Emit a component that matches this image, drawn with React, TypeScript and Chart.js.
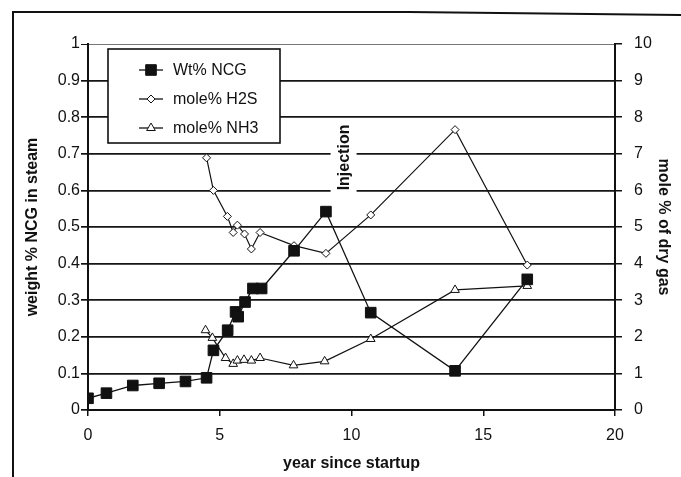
import React, { useEffect, useRef } from "react";
import { Chart, registerables } from "chart.js";
import { drawPoint } from "chart.js/helpers";

Chart.register(...registerables);

const FONT = "'Liberation Sans', Arial, sans-serif";

// Wt% NCG (left axis)
const ncgYears = [0, 0.7, 1.7, 2.7, 3.7, 4.5, 4.76, 5.3, 5.6, 5.7, 5.96, 6.26, 6.59, 7.82, 9.03, 10.73, 13.93, 16.67];
const ncgValues = [0.032, 0.046, 0.067, 0.073, 0.078, 0.088, 0.163, 0.218, 0.268, 0.255, 0.295, 0.332, 0.332, 0.435, 0.542, 0.266, 0.107, 0.357];

// mole% H2S (right axis)
const h2sYears = [4.5, 4.76, 5.29, 5.51, 5.67, 5.94, 6.2, 6.53, 7.82, 9.03, 10.73, 13.93, 16.67];
const h2sValues = [6.89, 6.0, 5.29, 4.85, 5.05, 4.81, 4.4, 4.85, 4.49, 4.28, 5.33, 7.66, 3.96];

// mole% NH3 (right axis)
const nh3Years = [4.46, 4.72, 5.22, 5.51, 5.67, 5.92, 6.2, 6.53, 7.8, 8.98, 10.73, 13.93, 16.67];
const nh3Values = [2.18, 1.97, 1.42, 1.26, 1.35, 1.37, 1.35, 1.42, 1.22, 1.33, 1.94, 3.28, 3.39];

const seriesLabels = ["Wt% NCG", "mole% H2S", "mole% NH3"];
const yTickLabels = ["0", "0.1", "0.2", "0.3", "0.4", "0.5", "0.6", "0.7", "0.8", "0.9", "1"];
const y1TickLabels = ["0", "1", "2", "3", "4", "5", "6", "7", "8", "9", "10"];
const xTickLabels = ["0", "5", "10", "15", "20"];
const xTitle = "year since startup";
const yTitle = "weight % NCG in steam";
const y1Title = "mole % of dry gas";
const annotationText = "Injection";
const annotationYear = 9.7;
const annotationValue = 0.69;

const toPoints = (xs: number[], ys: number[]) => xs.map((x, i) => ({ x, y: ys[i] }));

const framePlugin = {
  id: "frame",
  beforeDraw(chart: any) {
    const { ctx, width, height } = chart;
    ctx.save();
    ctx.fillStyle = "#fff";
    ctx.fillRect(0, 0, width, height);
    ctx.strokeStyle = "#111";
    ctx.lineWidth = 2;
    ctx.beginPath();
    ctx.moveTo(13, height);
    ctx.lineTo(13, 12);
    ctx.lineTo(width * 0.6, 12);
    ctx.lineTo(width, 15);
    ctx.stroke();
    ctx.restore();
  },
};

const overlayPlugin = {
  id: "overlay",
  afterDraw(chart: any) {
    const { ctx } = chart;
    const xs = chart.scales.x;
    const ys = chart.scales.y;
    // annotation
    const ax = xs.getPixelForValue(annotationYear);
    const ay = ys.getPixelForValue(annotationValue);
    ctx.save();
    ctx.fillStyle = "#fff";
    ctx.fillRect(ax - 13, ay - 38, 26, 76);
    ctx.translate(ax, ay);
    ctx.rotate(-Math.PI / 2);
    ctx.fillStyle = "#111";
    ctx.font = `bold 16px ${FONT}`;
    ctx.textAlign = "center";
    ctx.textBaseline = "middle";
    ctx.fillText(annotationText, 0, 1);
    ctx.restore();

    // legend box
    const bx = 108, by = 49, bw = 172, bh = 94;
    ctx.save();
    ctx.fillStyle = "#fff";
    ctx.fillRect(bx, by, bw, bh);
    ctx.strokeStyle = "#111";
    ctx.lineWidth = 1.6;
    ctx.strokeRect(bx, by, bw, bh);
    chart.data.datasets.forEach((ds: any, i: number) => {
      const y = by + 21 + i * 29;
      ctx.strokeStyle = "#111";
      ctx.lineWidth = 1.3;
      ctx.beginPath();
      ctx.moveTo(bx + 31, y);
      ctx.lineTo(bx + 55, y);
      ctx.stroke();
      ctx.fillStyle = ds.pointBackgroundColor;
      ctx.strokeStyle = "#111";
      ctx.lineWidth = 1;
      drawPoint(ctx, { pointStyle: ds.pointStyle, radius: ds.pointRadius, rotation: 0, borderWidth: 1 }, bx + 43, y);
      ctx.fillStyle = "#111";
      ctx.font = `16px ${FONT}`;
      ctx.textAlign = "left";
      ctx.textBaseline = "middle";
      ctx.fillText(ds.label, bx + 65, y + 1);
    });
    ctx.restore();
  },
};

export default function App() {
  const ref = useRef<HTMLCanvasElement>(null);
  useEffect(() => {
    if (!ref.current) return;
    const chart = new Chart(ref.current, {
      type: "scatter",
      data: {
        datasets: [
          {
            label: seriesLabels[0],
            data: toPoints(ncgYears, ncgValues),
            yAxisID: "y",
            showLine: true,
            borderColor: "#111",
            borderWidth: 1.3,
            pointStyle: "rect",
            pointRadius: 7.5,
            pointBackgroundColor: "#111",
            pointBorderColor: "#111",
            pointBorderWidth: 1,
          },
          {
            label: seriesLabels[1],
            data: toPoints(h2sYears, h2sValues),
            yAxisID: "y1",
            showLine: true,
            borderColor: "#111",
            borderWidth: 1.2,
            pointStyle: "rectRot",
            pointRadius: 4,
            pointBackgroundColor: "#fff",
            pointBorderColor: "#111",
            pointBorderWidth: 1,
          },
          {
            label: seriesLabels[2],
            data: toPoints(nh3Years, nh3Values),
            yAxisID: "y1",
            showLine: true,
            borderColor: "#111",
            borderWidth: 1.2,
            pointStyle: "triangle",
            pointRadius: 5,
            pointBackgroundColor: "#fff",
            pointBorderColor: "#111",
            pointBorderWidth: 1,
          },
        ],
      },
      options: {
        responsive: false,
        animation: false,
        layout: { padding: { top: 44, left: 0, right: 0, bottom: 0 } },
        plugins: { legend: { display: false }, tooltip: { enabled: false } },
        scales: {
          x: {
            type: "linear",
            min: 0,
            max: 20,
            ticks: {
              stepSize: 5,
              color: "#111",
              padding: 10,
              font: { family: FONT, size: 16 },
              callback: (_v: any, i: number) => xTickLabels[i],
            },
            grid: { drawOnChartArea: false, tickLength: 6, color: "#111", lineWidth: 1.5 },
            border: { display: true, color: "#111", width: 2 },
            title: { display: true, text: xTitle, color: "#111", font: { family: FONT, size: 16, weight: "bold" }, padding: { top: 0, bottom: 4 } },
            afterFit: (s: any) => { s.height = 67; },
          },
          y: {
            type: "linear",
            position: "left",
            min: 0,
            max: 1,
            ticks: {
              stepSize: 0.1,
              color: "#111",
              padding: 1,
              font: { family: FONT, size: 16 },
              callback: (_v: any, i: number) => yTickLabels[i],
            },
            grid: {
              color: (c: any) => (c.tick && c.tick.value === 1 ? "#777" : "#151515"),
              lineWidth: (c: any) => (c.tick && c.tick.value === 1 ? 1 : 1.7),
              tickColor: "#111",
              tickLength: 7,
            },
            border: { display: true, color: "#111", width: 2 },
            title: { display: true, text: yTitle, color: "#111", font: { family: FONT, size: 16, weight: "bold" }, padding: { top: 23, bottom: 0 } },
            afterFit: (s: any) => { s.width = 88; },
          },
          y1: {
            type: "linear",
            position: "right",
            min: 0,
            max: 10,
            ticks: {
              stepSize: 1,
              color: "#111",
              padding: 12,
              font: { family: FONT, size: 16 },
              callback: (_v: any, i: number) => y1TickLabels[i],
            },
            grid: { drawOnChartArea: false, tickLength: 7, color: "#111", lineWidth: 1.5 },
            border: { display: true, color: "#111", width: 2 },
            title: { display: true, text: y1Title, color: "#111", font: { family: FONT, size: 16, weight: "bold" }, padding: { top: 8, bottom: 0 } },
            afterFit: (s: any) => { s.width = 66; },
          },
        },
      },
      plugins: [framePlugin, overlayPlugin],
    } as any);
    return () => chart.destroy();
  }, []);
  return (
    <div style={{ position: "fixed", left: 0, top: 0, width: 681, height: 477, background: "#fff" }}>
      <canvas ref={ref} width={681} height={477} style={{ display: "block" }} />
    </div>
  );
}
